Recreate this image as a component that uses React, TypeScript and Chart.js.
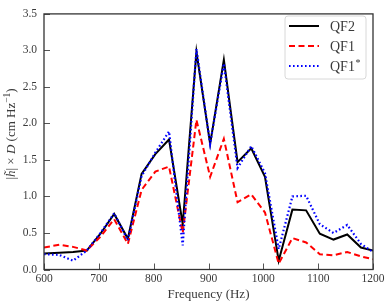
import React, { useEffect, useRef } from "react";
import { Chart, registerables } from "chart.js";

Chart.register(...registerables);

const frequencies = [600, 628, 653, 678, 703, 728, 753, 778, 803, 828, 853, 878, 903, 928, 953, 978, 1003, 1028, 1053, 1078, 1103, 1128, 1153, 1178, 1200];
const qf2 = [0.22, 0.23, 0.24, 0.26, 0.49, 0.76, 0.42, 1.31, 1.58, 1.78, 0.62, 2.98, 1.72, 2.87, 1.47, 1.66, 1.27, 0.12, 0.82, 0.81, 0.49, 0.41, 0.48, 0.3, 0.26];
const qf1 = [0.3, 0.34, 0.31, 0.26, 0.45, 0.69, 0.35, 1.09, 1.34, 1.41, 0.5, 2.05, 1.27, 1.79, 0.92, 1.03, 0.78, 0.08, 0.43, 0.37, 0.21, 0.195, 0.24, 0.18, 0.14];
const qf1s = [0.21, 0.2, 0.12, 0.26, 0.5, 0.77, 0.4, 1.28, 1.6, 1.89, 0.33, 3.02, 1.72, 2.82, 1.39, 1.69, 1.32, 0.28, 1.0, 1.01, 0.62, 0.5, 0.61, 0.35, 0.24];
const xTicks = [600, 700, 800, 900, 1000, 1100, 1200];
const yTicks = [0, 0.5, 1, 1.5, 2, 2.5, 3, 3.5];
const seriesLabels = ["QF2", "QF1", "QF1*"];
const xTitle = "Frequency (Hz)";

const FONT = "'Liberation Serif', 'Times New Roman', serif";

const toPoints = (ys: number[]) => frequencies.map((x, i) => ({ x, y: ys[i] }));

const framePlugin = {
  id: "frame",
  afterDraw(chart: any) {
    const ctx = chart.ctx as CanvasRenderingContext2D;
    const { left, right, top, bottom } = chart.chartArea;
    const xs = chart.scales.x;
    const ys = chart.scales.y;
    ctx.save();
    ctx.strokeStyle = "#555";
    ctx.lineWidth = 1;
    ctx.setLineDash([]);
    for (const t of xTicks) {
      const px = Math.round(xs.getPixelForValue(t)) + 0.5;
      ctx.beginPath();
      ctx.moveTo(px, bottom);
      ctx.lineTo(px, bottom - 6);
      ctx.stroke();
    }
    for (const t of yTicks) {
      const py = Math.round(ys.getPixelForValue(t)) + 0.5;
      ctx.beginPath();
      ctx.moveTo(left, py);
      ctx.lineTo(left + 6, py);
      ctx.stroke();
    }
    ctx.strokeStyle = "#333";
    ctx.lineWidth = 1.3;
    ctx.strokeRect(left, top, right - left, bottom - top);

    // legend
    const lx = 285, ly = 16, lw = 81, lh = 63, r = 3;
    ctx.fillStyle = "rgba(255,255,255,0.85)";
    ctx.strokeStyle = "#d8d8d8";
    ctx.lineWidth = 1;
    ctx.beginPath();
    ctx.moveTo(lx + r, ly);
    ctx.lineTo(lx + lw - r, ly);
    ctx.quadraticCurveTo(lx + lw, ly, lx + lw, ly + r);
    ctx.lineTo(lx + lw, ly + lh - r);
    ctx.quadraticCurveTo(lx + lw, ly + lh, lx + lw - r, ly + lh);
    ctx.lineTo(lx + r, ly + lh);
    ctx.quadraticCurveTo(lx, ly + lh, lx, ly + lh - r);
    ctx.lineTo(lx, ly + r);
    ctx.quadraticCurveTo(lx, ly, lx + r, ly);
    ctx.closePath();
    ctx.fill();
    ctx.stroke();

    chart.data.datasets.forEach((ds: any, i: number) => {
      const yy = 26 + i * 20;
      ctx.strokeStyle = ds.borderColor;
      ctx.lineWidth = ds.borderWidth;
      ctx.setLineDash(ds.borderDash || []);
      ctx.beginPath();
      ctx.moveTo(289, yy);
      ctx.lineTo(319, yy);
      ctx.stroke();
      ctx.setLineDash([]);
      ctx.fillStyle = "#3a3a3a";
      ctx.textBaseline = "middle";
      ctx.textAlign = "left";
      const label: string = ds.label;
      if (label.endsWith("*")) {
        const base = label.slice(0, -1);
        ctx.font = `14px ${FONT}`;
        ctx.fillText(base, 330, yy + 1);
        const w = ctx.measureText(base).width;
        ctx.font = `10px ${FONT}`;
        ctx.fillText("*", 330 + w + 0.5, yy - 3);
      } else {
        ctx.font = `14px ${FONT}`;
        ctx.fillText(label, 330, yy + 1);
      }
    });

    // x title
    ctx.fillStyle = "#3a3a3a";
    ctx.font = `13px ${FONT}`;
    ctx.textAlign = "center";
    ctx.textBaseline = "middle";
    ctx.fillText(xTitle, (left + right) / 2, 295);

    // y title with italic parts
    const segs: { t: string; f: string; dy: number }[] = [
      { t: "|", f: `13px ${FONT}`, dy: 0 },
      { t: "h\u0303", f: `italic 13px ${FONT}`, dy: 0 },
      { t: "| \u00d7 ", f: `13px ${FONT}`, dy: 0 },
      { t: "D", f: `italic 13px ${FONT}`, dy: 0 },
      { t: " (cm Hz", f: `13px ${FONT}`, dy: 0 },
      { t: "\u22121", f: `9.5px ${FONT}`, dy: -4.5 },
      { t: ")", f: `13px ${FONT}`, dy: 0 },
    ];
    let total = 0;
    const widths = segs.map((s) => {
      ctx.font = s.f;
      const w = ctx.measureText(s.t).width;
      total += w;
      return w;
    });
    ctx.translate(12, 134);
    ctx.rotate(-Math.PI / 2);
    ctx.textAlign = "left";
    let cx = -total / 2;
    segs.forEach((s, i) => {
      ctx.font = s.f;
      ctx.fillText(s.t, cx, s.dy);
      cx += widths[i];
    });
    ctx.restore();
  },
};

export default function App() {
  const ref = useRef<HTMLCanvasElement | null>(null);
  useEffect(() => {
    document.body.style.margin = "0";
    if (!ref.current) return;
    const chart = new Chart(ref.current, {
      type: "line",
      data: {
        datasets: [
          {
            label: seriesLabels[0],
            data: toPoints(qf2),
            borderColor: "#000000",
            borderWidth: 2,
            pointRadius: 0,
            tension: 0,
            order: 3,
          },
          {
            label: seriesLabels[1],
            data: toPoints(qf1),
            borderColor: "#ff0000",
            borderWidth: 2,
            borderDash: [6, 3.5],
            pointRadius: 0,
            tension: 0,
            order: 2,
          },
          {
            label: seriesLabels[2],
            data: toPoints(qf1s),
            borderColor: "#0000ff",
            borderWidth: 2.2,
            borderDash: [1.6, 2.4],
            pointRadius: 0,
            tension: 0,
            order: 1,
          },
        ] as any,
      },
      options: {
        animation: false,
        responsive: false,
        devicePixelRatio: 1,
        layout: { padding: { top: 9, right: 17, left: 0, bottom: 0 } },
        plugins: { legend: { display: false }, tooltip: { enabled: false } },
        scales: {
          x: {
            type: "linear",
            min: 600,
            max: 1200,
            afterBuildTicks: (s: any) => {
              s.ticks = xTicks.map((v) => ({ value: v }));
            },
            afterFit: (s: any) => {
              s.height = 38.5;
            },
            grid: { display: false, drawTicks: false },
            border: { display: false },
            ticks: {
              font: { family: FONT, size: 11.5 },
              color: "#3a3a3a",
              padding: 3,
              maxRotation: 0,
              callback: (v: any) => String(v),
            },
          },
          y: {
            type: "linear",
            min: 0,
            max: 3.5,
            afterBuildTicks: (s: any) => {
              s.ticks = yTicks.map((v) => ({ value: v }));
            },
            afterFit: (s: any) => {
              s.width = 44;
            },
            grid: { display: false, drawTicks: false },
            border: { display: false },
            ticks: {
              font: { family: FONT, size: 11.5 },
              color: "#3a3a3a",
              padding: 7,
              callback: (v: any) => Number(v).toFixed(1),
            },
          },
        },
      },
      plugins: [framePlugin],
    });
    return () => chart.destroy();
  }, []);
  return (
    <div style={{ width: 390, height: 308, position: "relative" }}>
      <canvas ref={ref} width={390} height={308} style={{ display: "block" }} />
    </div>
  );
}
